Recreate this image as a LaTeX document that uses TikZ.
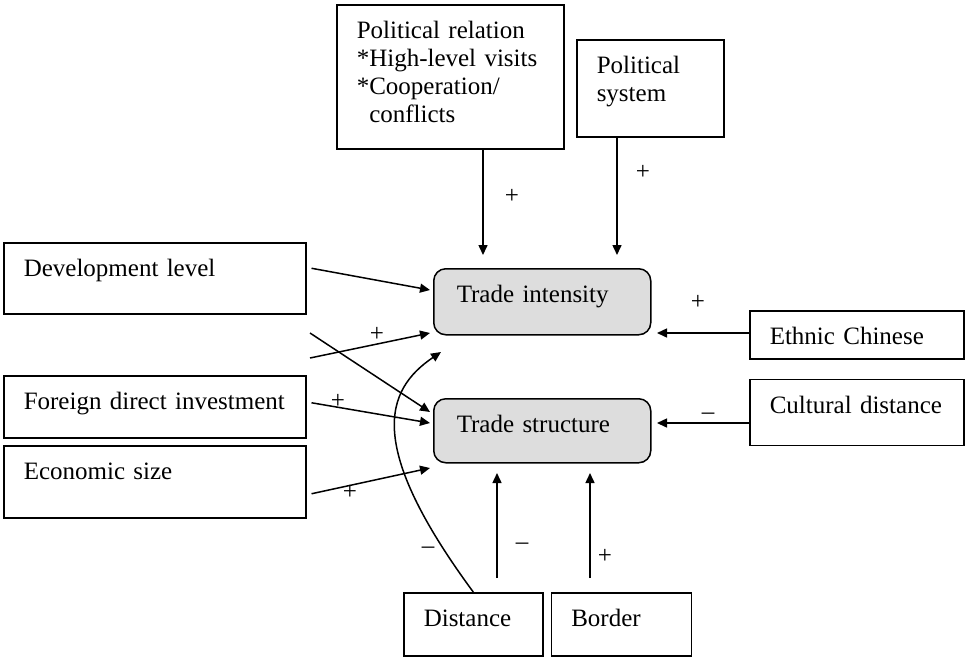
\documentclass[tikz,border=0pt]{standalone}
\usepackage{fontspec}
\setmainfont{Liberation Serif}
\usetikzlibrary{positioning, arrows.meta}
\definecolor{tradefill}{HTML}{DDDDDD}
\tikzset{
  factor/.style 2 args = {rectangle, draw=black, line width=1.5pt, anchor=north west,
                          inner xsep=20pt, inner ysep=0pt, text width=#1-40pt,
                          text height=34pt, text depth=#2-34pt, align=left},
  trade/.style 2 args  = {factor={#1}{#2}, rounded corners=12pt, fill=tradefill,
                          inner xsep=23pt, text width=#1-46pt},
  sign/.style          = {inner sep=0pt, text height=12.5pt, text depth=0pt},
  ar/.style            = {-{Triangle[length=10pt,width=9pt]}, line width=1.5pt},
}
\begin{document}
\begin{tikzpicture}[x=1pt, y=-1pt, font=\fontsize{25}{28}\selectfont]
  \useasboundingbox (0,0) rectangle (965,657);

  % political factors on top
  \node[factor={227pt}{144pt}] (polrel) at (336,4)
       {Political relation\\{*}High-level visits\\{*}Cooperation/\\\phantom{*}conflicts};
  \node[factor={147pt}{97pt}] (polsys) at (576,39) {Political\\system};

  % economic factors on the left
  \node[factor={302pt}{71pt}] (devlev) at (3,242) {Development level};
  \node[factor={302pt}{62pt}] (fdi) at (3,375) {Foreign direct investment};
  \node[factor={302pt}{72pt}] (econ) at (3,445) {Economic size};

  % trade outcomes
  \node[trade={217pt}{66pt}] (intens) at (433,268) {Trade intensity};
  \node[trade={217pt}{64pt}] (struct) at (433,398) {Trade structure};

  % cultural factors on the right
  \node[factor={214pt}{48pt}] (ethnic) at (749,310) {Ethnic Chinese};
  \node[factor={214pt}{66pt}, below=19pt of ethnic] (cultural) {Cultural distance};

  % geographic factors below
  \node[factor={139pt}{63pt}] (dist) at (403,592) {Distance};
  \node[factor={140pt}{63pt}, right=7pt of dist] (border) {Border};

  % arrow ends
  \coordinate (relTip) at (483,255);
  \coordinate (sysTip) at (617,255);
  \coordinate (devTip) at (430,290);
  \coordinate (midA) at (310,358);
  \coordinate (midTipA) at (430,333);
  \coordinate (midB) at (310,333);
  \coordinate (midTipB) at (430,412);
  \coordinate (fdiTip) at (430,423);
  \coordinate (ecoTip) at (430,468);
  \coordinate (ethTip) at (657,333);
  \coordinate (culTip) at (657,423);
  \coordinate (disTip) at (497,473);
  \coordinate (borTip) at (590,473);
  \coordinate (curTip) at (441,352);

  \draw[ar] (polrel.south -| relTip) -- (relTip);
  \draw[ar] (polsys.south -| sysTip) -- (sysTip);
  \draw[ar] ([xshift=5pt,yshift=10pt]devlev.east) -- (devTip);
  \draw[ar] (midA) -- (midTipA);
  \draw[ar] (midB) -- (midTipB);
  \draw[ar] ([xshift=5pt,yshift=4pt]fdi.east) -- (fdiTip);
  \draw[ar] ([xshift=5pt,yshift=-12pt]econ.east) -- (ecoTip);
  \draw[ar] (ethnic.west |- ethTip) -- (ethTip);
  \draw[ar] (cultural.west |- culTip) -- (culTip);
  \draw[ar, shorten <=14pt] (dist.north -| disTip) -- (disTip);
  \draw[ar, shorten <=14pt] (border.north -| borTip) -- (borTip);
  \draw[ar] (dist.north) .. controls (365,445) and (385,390) .. (curTip);

  % signs
  \node[sign] (sRel) at (512,197) {+};
  \node[sign] (sSys) at (643,173) {+};
  \node[sign] (sMid) at (377,335) {+};
  \node[sign] (sFdi) at (338,402) {+};
  \node[sign] (sEco) at (350,493) {+};
  \node[sign] (sEth) at (698,303) {+};
  \node[sign] (sCul) at (708,413) {--};
  \node[sign] (sCur) at (428,547) {--};
  \node[sign] (sDis) at (522,543) {--};
  \node[sign] (sBor) at (605,557) {+};

\end{tikzpicture}
\end{document}
